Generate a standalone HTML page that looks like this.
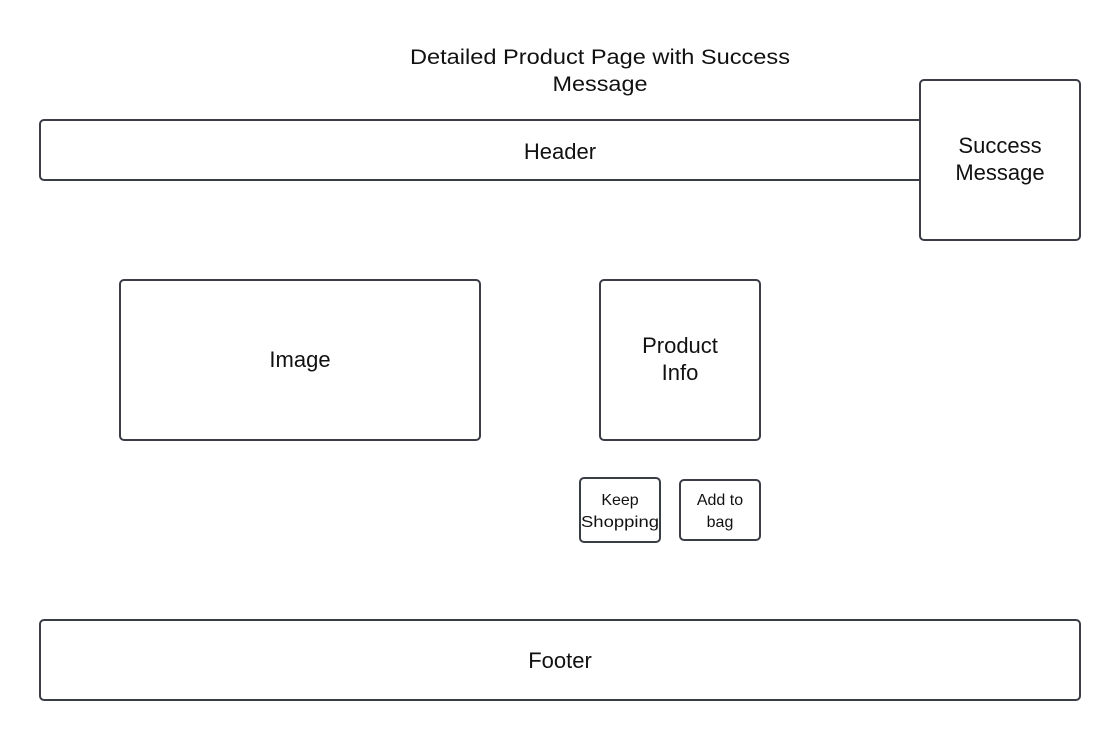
<!DOCTYPE html>
<html><head><meta charset="utf-8"><style>
html,body{margin:0;padding:0;background:#fff;}
svg{display:block;}
text{font-family:"Liberation Sans",sans-serif;fill:#111;text-anchor:middle;}
</style></head><body>
<svg width="1120" height="740" viewBox="0 0 1120 740" xmlns="http://www.w3.org/2000/svg">
<g fill="#fff" stroke="#3a3d45" stroke-width="2">
<rect x="40" y="120" width="1000" height="60" rx="4"/>
<rect x="920" y="80" width="160" height="160" rx="4"/>
<rect x="120" y="280" width="360" height="160" rx="4"/>
<rect x="600" y="280" width="160" height="160" rx="4"/>
<rect x="580" y="478" width="80" height="64" rx="4"/>
<rect x="680" y="480" width="80" height="60" rx="4"/>
<rect x="40" y="620" width="1040" height="80" rx="4"/>
</g>
<text x="600" y="64" font-size="21" textLength="380" lengthAdjust="spacingAndGlyphs">Detailed Product Page with Success</text>
<text x="600" y="91" font-size="21" textLength="95" lengthAdjust="spacingAndGlyphs">Message</text>
<text x="560" y="159" font-size="22">Header</text>
<text x="1000" y="153" font-size="22">Success</text>
<text x="1000" y="180" font-size="22">Message</text>
<text x="300" y="367" font-size="22">Image</text>
<text x="680" y="353" font-size="22">Product</text>
<text x="680" y="380" font-size="22">Info</text>
<text x="620" y="505" font-size="16">Keep</text>
<text x="620" y="527" font-size="16" textLength="78" lengthAdjust="spacingAndGlyphs">Shopping</text>
<text x="720" y="505" font-size="16">Add to</text>
<text x="720" y="527" font-size="16">bag</text>
<text x="560" y="668" font-size="22">Footer</text>
</svg>
</body></html>
